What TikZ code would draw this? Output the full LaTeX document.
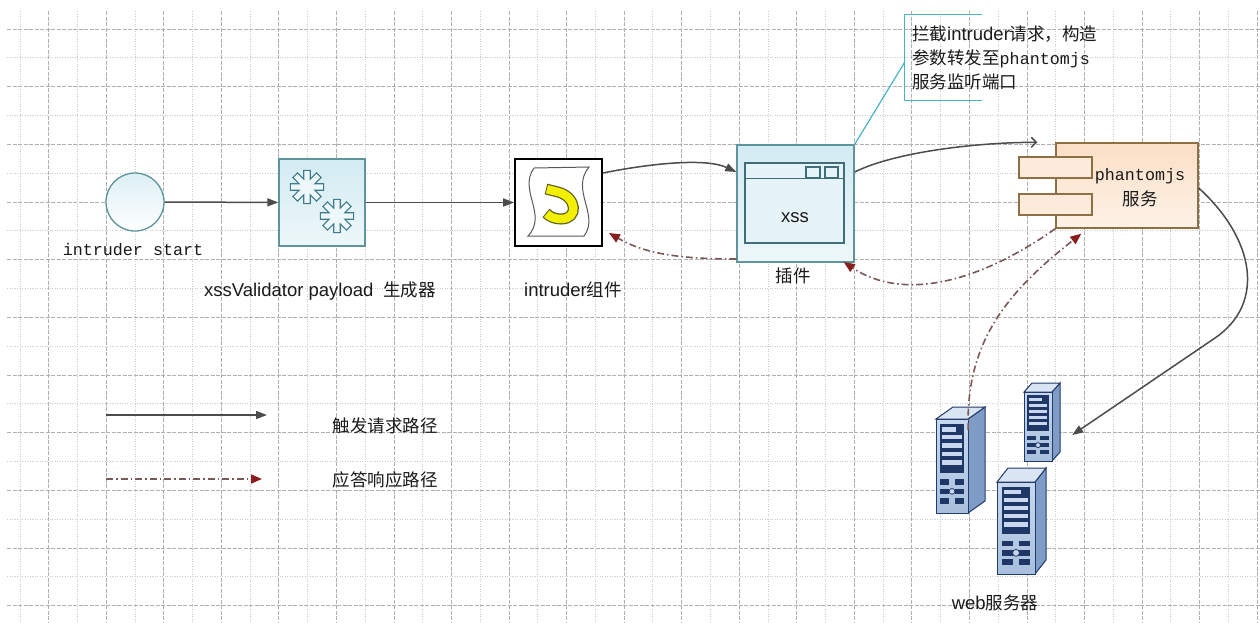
\documentclass[tikz,border=0pt]{standalone}
\usepackage{fontspec}
\setmainfont{Liberation Sans}
\newfontfamily\cjk{Noto Sans CJK SC}
\newfontfamily\mono{Liberation Mono}
\usetikzlibrary{arrows.meta,calc}

\definecolor{gridA}{HTML}{B0B0B0}
\definecolor{gridB}{HTML}{CBCBCB}
\definecolor{linkgray}{HTML}{4C4C4C}
\definecolor{replyline}{HTML}{7A5858}
\definecolor{replytip}{HTML}{8A1E1E}
\definecolor{calloutc}{HTML}{46B4C6}
\definecolor{blueedge}{HTML}{5E949C}
\definecolor{bluetop}{HTML}{D3EBF2}
\definecolor{bluebot}{HTML}{EEF7FA}
\definecolor{winedge}{HTML}{3F6E78}
\definecolor{gearedge}{HTML}{3E7C8C}
\definecolor{peachedge}{HTML}{8E7044}
\definecolor{peachtop}{HTML}{FBDFC6}
\definecolor{peachbot}{HTML}{FDF2E7}
\definecolor{hookfill}{HTML}{F2F000}
\definecolor{hookedge}{HTML}{5E5E1E}
\definecolor{srvline}{HTML}{223B6A}
\definecolor{srvdark}{HTML}{1E3766}
\definecolor{srvbar}{HTML}{C9D8EE}
\definecolor{srvside}{HTML}{7F9CC6}
\definecolor{srvtop}{HTML}{DAE5F3}
\definecolor{srvfronttop}{HTML}{C8D9EE}
\definecolor{srvfrontbot}{HTML}{A8BFDD}
\definecolor{inkc}{HTML}{1A1A1A}

% mixed-script text helpers
\newcommand{\zh}[1]{{\fontsize{17.5}{21}\cjk #1}}
\newcommand{\lat}[1]{{\fontsize{18.5}{22}\selectfont #1}}
\newcommand{\mon}[1]{{\fontsize{16.7}{21}\mono #1}}

% eight-armed cog outline: centre x, centre y, outer radius
\newcommand{\gearart}[3]{%
  \filldraw[gearstyle] ({#1+#3*cos(-11)},{#2+#3*sin(-11)})
    \foreach \k in {0,...,7}{
      -- ({#1+#3*cos(\k*45+11)},{#2+#3*sin(\k*45+11)})
      -- ({#1+0.5*#3*cos(\k*45+22.5)},{#2+0.5*#3*sin(\k*45+22.5)})
      -- ({#1+#3*cos(\k*45+34)},{#2+#3*sin(\k*45+34)})
    } -- cycle;}

% tower server: left, top of front face, width, height, depth right, depth up
\newcommand{\towerart}[6]{%
  \def\twx{#1}\def\twy{#2}\def\tww{#3}\def\twh{#4}\def\twdx{#5}\def\twdy{#6}%
  \filldraw[srvline, line width=1pt, fill=srvside]
    ({\twx+\tww},{\twy}) -- ++(\twdx,-\twdy) -- ++(0,\twh) -- ({\twx+\tww},{\twy+\twh}) -- cycle;
  \filldraw[srvline, line width=1pt, fill=srvtop]
    (\twx,\twy) -- ++(\twdx,-\twdy) -- ++(\tww,0) -- ({\twx+\tww},\twy) -- cycle;
  \draw[srvline, line width=1pt, top color=srvfronttop, bottom color=srvfrontbot]
    (\twx,\twy) rectangle ++(\tww,\twh);
  \fill[srvdark] ({\twx+0.12*\tww},{\twy+0.05*\twh}) rectangle ({\twx+0.88*\tww},{\twy+0.57*\twh});
  \foreach \rr/\ll in {0.09/0.45, 0.17/0.62, 0.26/0.62, 0.35/0.62, 0.44/0.62}{
    \fill[srvbar] ({\twx+0.19*\tww},{\twy+\rr*\twh}) rectangle ++({\ll*\tww},{0.045*\twh});}
  \foreach \rr in {0.64,0.74,0.84}{
    \fill[srvdark] ({\twx+0.12*\tww},{\twy+\rr*\twh}) rectangle ++({0.3*\tww},{0.06*\twh});
    \fill[srvdark] ({\twx+0.58*\tww},{\twy+\rr*\twh}) rectangle ++({0.3*\tww},{0.06*\twh});}
  \filldraw[srvline, line width=0.8pt, fill=srvbar] ({\twx+0.5*\tww},{\twy+0.77*\twh}) circle (0.09*\tww);
}

\begin{document}
\begin{tikzpicture}[x=1pt,y=-1pt,
  gridmajor/.style={gridA, line width=0.9pt, dash pattern=on 4pt off 1.5pt},
  gridminor/.style={gridB, line width=0.9pt, dash pattern=on 1pt off 1.5pt},
  req/.style={linkgray, line width=1.5pt, -{Triangle[length=11pt,width=8pt]}},
  reqopen/.style={linkgray, line width=1.5pt, -{Straight Barb[length=5pt,width=10pt]}},
  reply/.style={replyline, line width=1.6pt, dash pattern=on 7pt off 3pt on 1.5pt off 3pt,
    -{Triangle[length=11pt,width=9pt,color=replytip]}},
  callout/.style={calloutc, line width=1.2pt},
  bluebox/.style={draw=blueedge, line width=1.4pt, top color=bluetop, bottom color=bluebot, inner sep=0},
  winbox/.style={draw=winedge, line width=1.3pt, fill=bluebot!70!bluetop, inner sep=0},
  winline/.style={winedge, line width=1.3pt},
  gearstyle/.style={draw=gearedge, line width=1.1pt, fill=bluebot},
  phbox/.style={draw=peachedge, line width=1.4pt, top color=peachtop, bottom color=peachbot, inner sep=0},
  phport/.style={draw=peachedge, line width=1.3pt, fill=peachbot!60!peachtop, inner sep=0},
  lbl/.style={inkc, inner sep=0, anchor=base},
  lblw/.style={inkc, inner sep=0, anchor=base west},
  spot/.style={inner sep=0, minimum size=0pt}]

\useasboundingbox (0,0) rectangle (1260,622);
\fill[white] (0,0) rectangle (1260,622);

% background grid
\foreach \i in {0,2,...,42}{\draw[gridminor] ({20+28.77*\i},11) -- ({20+28.77*\i},622);}
\foreach \j in {1,3,...,19}{\draw[gridminor] (7,{29+28.83*\j}) -- (1260,{29+28.83*\j});}
\foreach \i in {1,3,...,43}{\draw[gridmajor] ({20+28.77*\i},11) -- ({20+28.77*\i},622);}
\foreach \j in {0,2,...,20}{\draw[gridmajor] (7,{29+28.83*\j}) -- (1260,{29+28.83*\j});}

% start event
\node[circle, minimum size=58pt, inner sep=0, draw=blueedge, line width=1.3pt,
      top color=bluetop!80, bottom color=white] (start) at (135,202) {};
\node[lbl] (startlbl) at (133,255) {\mon{intruder start}};

% payload generator
\node[bluebox, minimum width=86pt, minimum height=87pt] (gen) at (322,202.5) {};
\gearart{307}{187}{17}
\gearart{337}{216}{17}
\node[lbl] (genlbl) at (320,296) {\lat{xssValidator payload}\hspace{10pt}\zh{生成器}};

% intruder component
\node[draw=black, line width=1.8pt, fill=white, minimum width=87pt, minimum height=87pt, inner sep=0]
  (intr) at (558.5,202.5) {};
\filldraw[draw=black!65, line width=1pt, fill=white]
  (534,168) -- (589,167) .. controls (570,190) and (600,215) .. (584,236)
  -- (528,236) .. controls (548,215) and (518,190) .. (534,168) -- cycle;
\draw[hookedge, line width=11pt]
  (546,189) -- (558,192) .. controls (577,197) and (579,219) .. (561,219)
  .. controls (555,219) and (550,217) .. (546,213);
\draw[hookfill, line width=8.5pt, shorten <=1pt, shorten >=1pt]
  (546,189) -- (558,192) .. controls (577,197) and (579,219) .. (561,219)
  .. controls (555,219) and (550,217) .. (546,213);
\node[lbl] (intrlbl) at (573,296) {\lat{intruder}\zh{组件}};

% xss plugin window
\node[bluebox, minimum width=117pt, minimum height=117pt] (xss) at (795.5,203.5) {};
\node[winbox, minimum width=99pt, minimum height=80pt] (win) at (794.5,203) {};
\draw[winline] ([yshift=-16pt]win.north west) -- ([yshift=-16pt]win.north east);
\draw[winline] (806,167) rectangle (820,178);
\draw[winline] (825,167) rectangle (838,178);
\node[lbl] (xsstext) at (795,222) {\lat{xss}};
\node[lbl] (xsslbl) at (793,282) {\zh{插件}};

% note with bracket and leader
\node[spot, minimum width=77pt, minimum height=85pt] (notebox) at (943.5,57.5) {};
\draw[callout] (notebox.north east) -- (notebox.north west) -- (notebox.south west) -- (notebox.south east);
\draw[callout] ([yshift=-4.5pt]notebox.west) -- (xss.north east);
\node[lblw] (note1) at (912,40) {\zh{拦截}\lat{intruder}\zh{请求，构造}};
\node[lblw] (note2) at (912,64) {\zh{参数转发至}\mon{phantomjs}};
\node[lblw] (note3) at (912,88) {\zh{服务监听端口}};

% phantomjs service component
\node[phbox, minimum width=142pt, minimum height=85pt] (ph) at (1127,185.5) {};
\node[phport, minimum width=73pt, minimum height=21pt] (port1) at (1055.5,167.5) {};
\node[phport, minimum width=73pt, minimum height=21pt] (port2) at (1055.5,204.5) {};
\node[lbl] (phname) at (1140,180) {\mon{phantomjs}};
\node[lbl] (phsvc) at (1140,205) {\zh{服务}};

% web servers
\node[spot, minimum width=28pt, minimum height=69pt] (srv2) at (1038,426.5) {};
\node[spot, minimum width=32pt, minimum height=94pt] (srv1) at (952,466) {};
\node[spot, minimum width=38pt, minimum height=92pt] (srv3) at (1016,528) {};
\towerart{1024}{392}{28}{69}{8}{9}
\towerart{936}{419}{32}{94}{17}{12}
\towerart{997}{482}{38}{92}{11}{14}
\node[lbl] (weblbl) at (995,609) {\lat{web}\zh{服务器}};

% request path
\draw[req] (start) -- (gen);
\draw[req] (gen) -- (intr);
\draw[req] ([yshift=29.5pt]intr.east) .. controls +(50,-10) and +(-30,-14) .. ([yshift=31.5pt]xss.west);
\draw[reqopen] ([yshift=31.5pt]xss.east) .. controls +(40,-20) and +(-60,0) .. ([xshift=-18pt]ph.north west);
\draw[req] ([yshift=-2.5pt]ph.east) .. controls +(57,52) and (1265,304) .. (1215,338)
  -- ([xshift=20pt,yshift=-8.5pt]srv2.east);

% response path
\draw[reply] ([yshift=-55.5pt]xss.west) .. controls +(-60,0) and +(35,20) .. ([xshift=6pt,yshift=-30.5pt]intr.east);
\draw[reply] (ph.south west) .. controls +(-81,57) and +(57,38) .. ([xshift=-11pt,yshift=-58.5pt]xss.east);
\draw[reply] ([yshift=36pt]srv1.east) .. controls +(-3,-90) and +(-72,57) .. ([xshift=26pt,yshift=-5pt]ph.south west);

% legend
\coordinate (lgA1) at (106,415);
\coordinate (lgA2) at (267,415);
\coordinate (lgB1) at (106,479);
\coordinate (lgB2) at (262,479);
\draw[req] (lgA1) -- (lgA2);
\draw[reply] (lgB1) -- (lgB2);
\node[lbl] (lgAtext) at (385,432) {\zh{触发请求路径}};
\node[lbl] (lgBtext) at (385,486) {\zh{应答响应路径}};
\end{tikzpicture}
\end{document}
